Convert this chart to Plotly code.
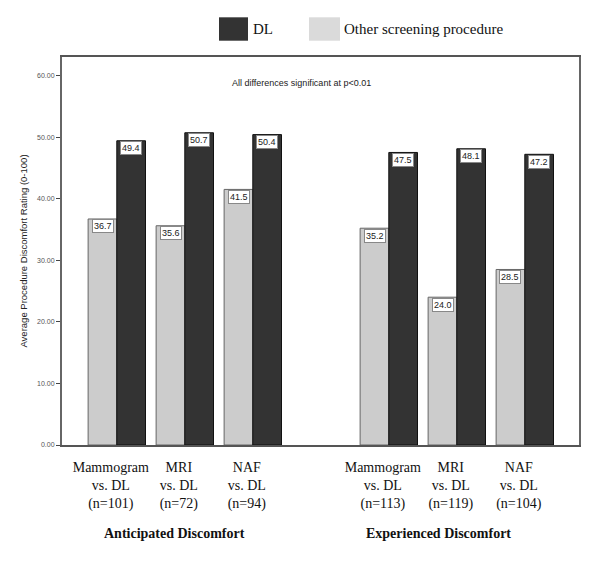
import plotly.graph_objects as go

# ---- data ----
categories = [
    "Mammogram<br>vs. DL<br>(n=101)",
    "MRI<br>vs. DL<br>(n=72)",
    "NAF<br>vs. DL<br>(n=94)",
    " ",
    "Mammogram<br>vs. DL<br>(n=113)",
    "MRI<br>vs. DL<br>(n=119)",
    "NAF<br>vs. DL<br>(n=104)",
]
other_values = [36.7, 35.6, 41.5, None, 35.2, 24.0, 28.5]
dl_values = [49.4, 50.7, 50.4, None, 47.5, 48.1, 47.2]
y_ticks = [0, 10, 20, 30, 40, 50, 60]
group_titles = ["Anticipated Discomfort", "Experienced Discomfort"]
note = "All differences significant at p<0.01"
y_title = "Average Procedure Discomfort Rating (0-100)"

LIGHT = "#cccccc"
DARK = "#333333"
SERIF = "Liberation Serif, Times New Roman, serif"
SANS = "Liberation Sans, Arial, sans-serif"

fig = go.Figure()
fig.add_trace(go.Bar(x=categories, y=other_values, name="Other screening procedure",
                     marker=dict(color=LIGHT, line=dict(color="#666666", width=1)),
                     showlegend=False, hoverinfo="skip"))
fig.add_trace(go.Bar(x=categories, y=dl_values, name="DL",
                     marker=dict(color=DARK, line=dict(color="#111111", width=1)),
                     showlegend=False, hoverinfo="skip"))

annotations = []
half = 14.3
for cat, v_o, v_d in zip(categories, other_values, dl_values):
    if v_o is None:
        continue
    for v, sh in ((v_o, -half), (v_d, half)):
        annotations.append(dict(x=cat, y=v, xref="x", yref="y", text=f"{v:.1f}",
                                showarrow=False, xshift=sh, yanchor="top", yshift=-0.5,
                                bgcolor="white", bordercolor="#888888", borderwidth=1,
                                borderpad=1, font=dict(family=SANS, size=9, color="#222222")))

annotations.append(dict(x=0.463, y=58.8, xref="paper", yref="y", text=note, showarrow=False,
                        font=dict(family=SANS, size=9, color="#222222")))
annotations.append(dict(x=0.85, y=-0.229, xref="x", yref="paper", text=f"<b>{group_titles[0]}</b>",
                        showarrow=False, yanchor="middle", font=dict(family=SERIF, size=14, color="#111111")))
annotations.append(dict(x=4.73, y=-0.229, xref="x", yref="paper", text=f"<b>{group_titles[1]}</b>",
                        showarrow=False, yanchor="middle", font=dict(family=SERIF, size=14, color="#111111")))
# legend text
annotations.append(dict(x=0.3656, y=1.072, xref="paper", yref="paper", text="DL", showarrow=False,
                        xanchor="left", yanchor="middle", font=dict(family=SERIF, size=15, color="#111111")))
annotations.append(dict(x=0.5416, y=1.072, xref="paper", yref="paper", text="Other screening procedure",
                        showarrow=False, xanchor="left", yanchor="middle",
                        font=dict(family=SERIF, size=15, color="#111111")))

shapes = [
    dict(type="rect", xref="paper", yref="paper", x0=0.3037, x1=0.3598, y0=1.042, y1=1.1023,
         fillcolor=DARK, line=dict(width=0)),
    dict(type="rect", xref="paper", yref="paper", x0=0.4778, x1=0.5377, y0=1.042, y1=1.1023,
         fillcolor="#dadada", line=dict(width=0)),
]

fig.update_layout(
    width=600, height=567,
    margin=dict(l=62, r=21, t=57, b=122),
    paper_bgcolor="white", plot_bgcolor="white",
    barmode="group", bargap=0.156, bargroupgap=0,
    annotations=annotations, shapes=shapes,
    xaxis=dict(type="category", categoryorder="array", categoryarray=categories,
               range=[-0.806, 6.797], showline=True, mirror=True, linecolor="#555555",
               linewidth=1.5, ticks="", showgrid=False, zeroline=False, automargin=False,
               ticklabelstandoff=8, ticklabelshift=-6,
               tickfont=dict(family=SERIF, size=14, color="#111111")),
    yaxis=dict(range=[0, 63], tickvals=y_ticks, tickformat=".2f", showline=True, mirror=True,
               linecolor="#666666", linewidth=2, ticks="outside", ticklen=4, tickcolor="#444444",
               showgrid=False, zeroline=False, automargin=False,
               tickfont=dict(family=SANS, size=7, color="#555555"),
               title=dict(text=y_title, font=dict(family=SANS, size=9.5, color="#222222"), standoff=8)),
)

fig.write_html("out.html", config={"displayModeBar": False},
               post_script="document.body.style.margin='0px';")
